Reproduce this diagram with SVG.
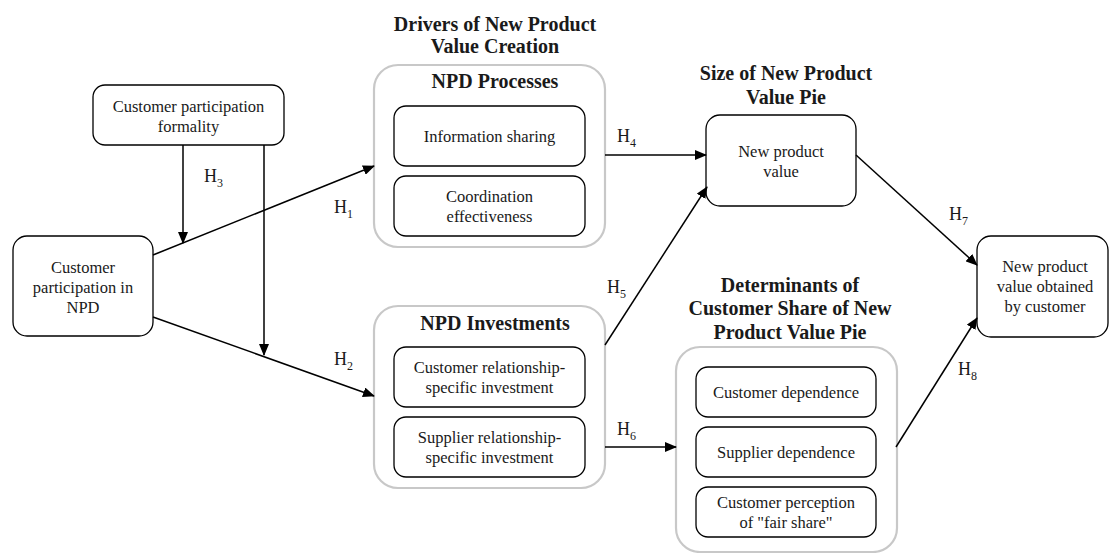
<svg xmlns="http://www.w3.org/2000/svg" width="1109" height="553" viewBox="0 0 1109 553" font-family="'Liberation Serif', 'Times New Roman', serif">
<defs>
<marker id="ah" markerWidth="12" markerHeight="10" refX="11" refY="5" orient="auto" markerUnits="userSpaceOnUse">
<path d="M0,0 L12,5 L0,10 Z" fill="#000"/>
</marker>
</defs>
<style>
.box{fill:#fff;stroke:#000;stroke-width:1.3}
.grp{fill:#fff;stroke:#c8c8c8;stroke-width:2.2}
.t{font-family:'Liberation Serif',serif;font-size:16.5px;fill:#1a1a1a;text-anchor:middle}
.b{font-family:'Liberation Serif',serif;font-size:20px;font-weight:bold;fill:#1a1a1a;text-anchor:middle}
.h{font-family:'Liberation Serif',serif;font-size:18px;fill:#1a1a1a}
.s{font-size:12px}
.c{fill:none;stroke:#000;stroke-width:1.5}
</style>
<rect width="1109" height="553" fill="#fff"/>

<g id="formality">
<rect class="box" x="93" y="85" width="191" height="60" rx="12"/>
<text class="t" x="188.5" y="112">Customer participation</text>
<text class="t" x="188.5" y="132">formality</text>
</g>

<g id="participation">
<rect class="box" x="13" y="236" width="140" height="100" rx="14"/>
<text class="t" x="83" y="273">Customer</text>
<text class="t" x="83" y="293">participation in</text>
<text class="t" x="83" y="313">NPD</text>
</g>

<g id="drivers-title">
<text class="b" x="495" y="31">Drivers of New Product</text>
<text class="b" x="495" y="53">Value Creation</text>
</g>

<g id="npd-processes">
<rect class="grp" x="374" y="65" width="231" height="182" rx="24"/>
<text class="b" x="495" y="88">NPD Processes</text>
<g id="information-sharing">
<rect class="box" x="394" y="106" width="191" height="60" rx="12"/>
<text class="t" x="489.5" y="142">Information sharing</text>
</g>
<g id="coordination">
<rect class="box" x="394" y="176" width="191" height="60" rx="12"/>
<text class="t" x="489.5" y="202">Coordination</text>
<text class="t" x="489.5" y="222">effectiveness</text>
</g>
</g>

<g id="npd-investments">
<rect class="grp" x="374" y="306" width="231" height="182" rx="24"/>
<text class="b" x="495" y="330">NPD Investments</text>
<g id="customer-rsi">
<rect class="box" x="394" y="347" width="191" height="60" rx="12"/>
<text class="t" x="489.5" y="373">Customer relationship-</text>
<text class="t" x="489.5" y="393">specific investment</text>
</g>
<g id="supplier-rsi">
<rect class="box" x="394" y="417" width="191" height="60" rx="12"/>
<text class="t" x="489.5" y="443">Supplier relationship-</text>
<text class="t" x="489.5" y="463">specific investment</text>
</g>
</g>

<g id="size-title">
<text class="b" x="786" y="80">Size of New Product</text>
<text class="b" x="786" y="104">Value Pie</text>
</g>

<g id="new-product-value">
<rect class="box" x="706" y="115" width="150" height="91" rx="14"/>
<text class="t" x="781" y="157">New product</text>
<text class="t" x="781" y="177">value</text>
</g>

<g id="determinants-title">
<text class="b" x="790" y="292">Determinants of</text>
<text class="b" x="790" y="315">Customer Share of New</text>
<text class="b" x="790" y="339">Product Value Pie</text>
</g>

<g id="determinants">
<rect class="grp" x="676" y="347" width="221" height="205" rx="24"/>
<g id="customer-dependence">
<rect class="box" x="696" y="367" width="180" height="50" rx="12"/>
<text class="t" x="786" y="398">Customer dependence</text>
</g>
<g id="supplier-dependence">
<rect class="box" x="696" y="427" width="180" height="50" rx="12"/>
<text class="t" x="786" y="458">Supplier dependence</text>
</g>
<g id="fair-share">
<rect class="box" x="696" y="487" width="180" height="50" rx="12"/>
<text class="t" x="786" y="508">Customer perception</text>
<text class="t" x="786" y="528">of "fair share"</text>
</g>
</g>

<g id="obtained">
<rect class="box" x="977" y="236" width="131" height="101" rx="14"/>
<text class="t" x="1045" y="272">New product</text>
<text class="t" x="1045" y="292">value obtained</text>
<text class="t" x="1045" y="312">by customer</text>
</g>

<g id="connectors">
<line class="c" x1="153" y1="255" x2="374" y2="166" marker-end="url(#ah)"/>
<line class="c" x1="153" y1="317" x2="374" y2="396" marker-end="url(#ah)"/>
<line class="c" x1="183" y1="145" x2="183" y2="243" marker-end="url(#ah)"/>
<line class="c" x1="264" y1="145" x2="264" y2="355" marker-end="url(#ah)"/>
<line class="c" x1="605" y1="155" x2="706" y2="155" marker-end="url(#ah)"/>
<line class="c" x1="605" y1="345" x2="707" y2="187" marker-end="url(#ah)"/>
<line class="c" x1="605" y1="447" x2="676" y2="447" marker-end="url(#ah)"/>
<line class="c" x1="856" y1="155" x2="977" y2="265" marker-end="url(#ah)"/>
<line class="c" x1="896" y1="447" x2="977" y2="318" marker-end="url(#ah)"/>
</g>

<g id="labels">
<text class="h" x="204" y="182">H<tspan class="s" dy="5">3</tspan></text>
<text class="h" x="334" y="213">H<tspan class="s" dy="5">1</tspan></text>
<text class="h" x="334" y="365">H<tspan class="s" dy="5">2</tspan></text>
<text class="h" x="617" y="142">H<tspan class="s" dy="5">4</tspan></text>
<text class="h" x="607" y="293">H<tspan class="s" dy="5">5</tspan></text>
<text class="h" x="617" y="435">H<tspan class="s" dy="5">6</tspan></text>
<text class="h" x="949" y="220">H<tspan class="s" dy="5">7</tspan></text>
<text class="h" x="958" y="375">H<tspan class="s" dy="5">8</tspan></text>
</g>
</svg>
